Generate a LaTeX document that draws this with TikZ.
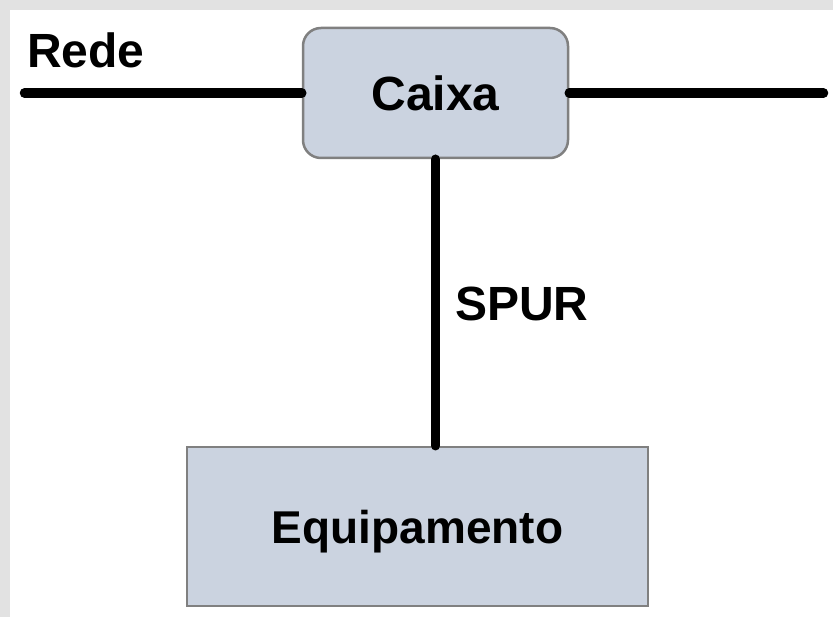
\documentclass[tikz,border=0pt]{standalone}
\usepackage{fontspec}
\setmainfont{Liberation Sans}
\usetikzlibrary{positioning}

\definecolor{boxfill}{RGB}{203,211,224}
\definecolor{boxline}{RGB}{128,128,128}
\definecolor{paper}{RGB}{226,226,226}

\begin{document}
\begin{tikzpicture}[x=1pt,y=-1pt,
	Line/.style={black,line width=9.5pt,line cap=round},
	Box/.style={rectangle,fill=boxfill,draw=boxline,line width=2.5pt,inner sep=0pt,text depth=0pt,font=\fontsize{48}{58}\selectfont\bfseries},
	Label/.style={inner sep=0pt,font=\fontsize{48}{58}\selectfont\bfseries},
]
	\useasboundingbox (0,0) rectangle (833,617);
	\fill[paper] (0,0) rectangle (833,617);
	\fill[white] (10,10) rectangle (833,617);

	\node[Box,rounded corners=18pt,minimum width=265pt,minimum height=130pt] (caixa) at (435.5,93) {Caixa};
	\node[Box,minimum width=461pt,minimum height=159pt,font=\fontsize{46}{56}\selectfont\bfseries] (equip) at (417.5,526.5) {Equipamento};
	\node[Label,anchor=base west] (rede) at (27,68) {Rede};
	\node[Label,anchor=base west] (spur) at (455,321) {SPUR};

	\coordinate (redeIn) at (24.5,93);
	\coordinate (redeOut) at (823.5,93);

	\draw[Line] (redeIn) -- (caixa.west);
	\draw[Line] (caixa.east) -- (redeOut);
	\draw[Line] (caixa.south) -- (caixa.south |- equip.north);
\end{tikzpicture}
\end{document}
